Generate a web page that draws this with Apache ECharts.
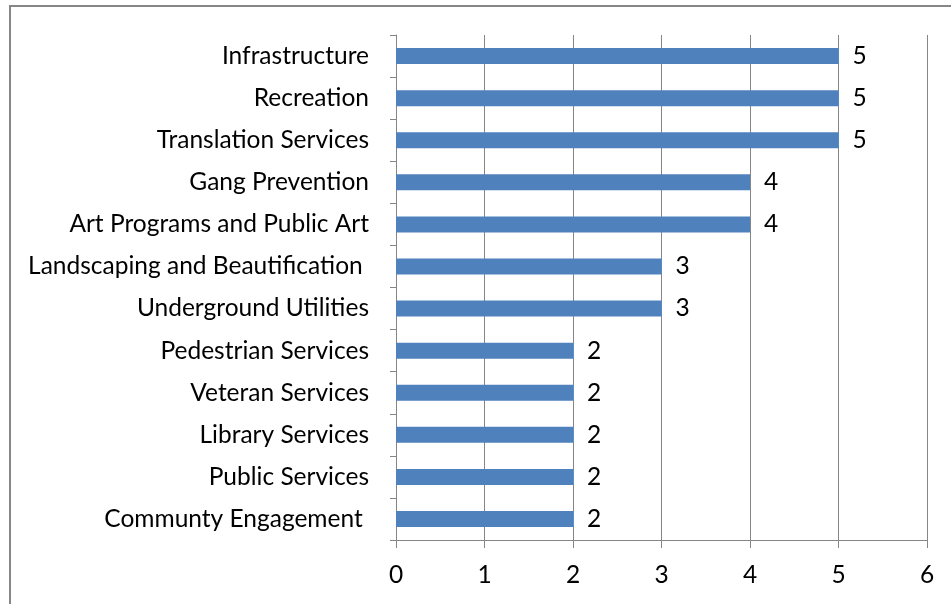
<!DOCTYPE html>
<html>
<head>
<meta charset="utf-8">
<script src="https://cdn.jsdelivr.net/npm/echarts@6/dist/echarts.min.js"></script>
<style>
  html, body { margin: 0; padding: 0; background: #fff; }
  #chart { width: 951px; height: 604px; }
</style>
</head>
<body>
<div id="chart"></div>
<script>
// Categories listed top to bottom
const categories = [
  'Infrastructure',
  'Recreation',
  'Translation Services',
  'Gang Prevention',
  'Art Programs and Public Art',
  'Landscaping and Beautification ',
  'Underground Utilities',
  'Pedestrian Services',
  'Veteran Services',
  'Library Services',
  'Public Services',
  'Communty Engagement '
];
const counts = [5, 5, 5, 4, 4, 3, 3, 2, 2, 2, 2, 2];
const xTicks = [0, 1, 2, 3, 4, 5, 6];

const FONT = 'Lato';
const FS = 24.5;
const GREY = '#868686';

const chart = echarts.init(document.getElementById('chart'));
chart.setOption({
  animation: false,
  backgroundColor: '#fff',
  textStyle: { fontFamily: FONT },
  graphic: [{
    type: 'rect',
    shape: { x: 10, y: 6, width: 960, height: 640 },
    style: { fill: 'none', stroke: GREY, lineWidth: 2 },
    silent: true
  }],
  grid: { left: 396, right: 24, top: 35, bottom: 64, containLabel: false },
  xAxis: {
    type: 'value',
    min: xTicks[0],
    max: xTicks[xTicks.length - 1],
    interval: 1,
    axisLine: { show: true, lineStyle: { color: GREY, width: 1 } },
    axisTick: { show: true, length: 8, lineStyle: { color: GREY } },
    splitLine: { show: true, lineStyle: { color: GREY, width: 1 } },
    axisLabel: { color: '#000', fontSize: FS, fontFamily: FONT, margin: 23,
      formatter: v => String(v) }
  },
  yAxis: {
    type: 'category',
    data: categories,
    inverse: true,
    axisLine: { show: true, lineStyle: { color: GREY, width: 1 } },
    axisTick: { show: true, length: 6, alignWithLabel: false, lineStyle: { color: GREY } },
    splitLine: { show: false },
    axisLabel: { color: '#000', fontSize: FS, fontFamily: FONT, margin: 27 }
  },
  series: [{
    type: 'bar',
    data: counts,
    barWidth: 16,
    itemStyle: { color: '#4F81BD' },
    label: {
      show: true,
      position: 'right',
      distance: 14,
      color: '#000',
      fontSize: FS,
      fontFamily: FONT
    }
  }]
});
</script>
</body>
</html>
